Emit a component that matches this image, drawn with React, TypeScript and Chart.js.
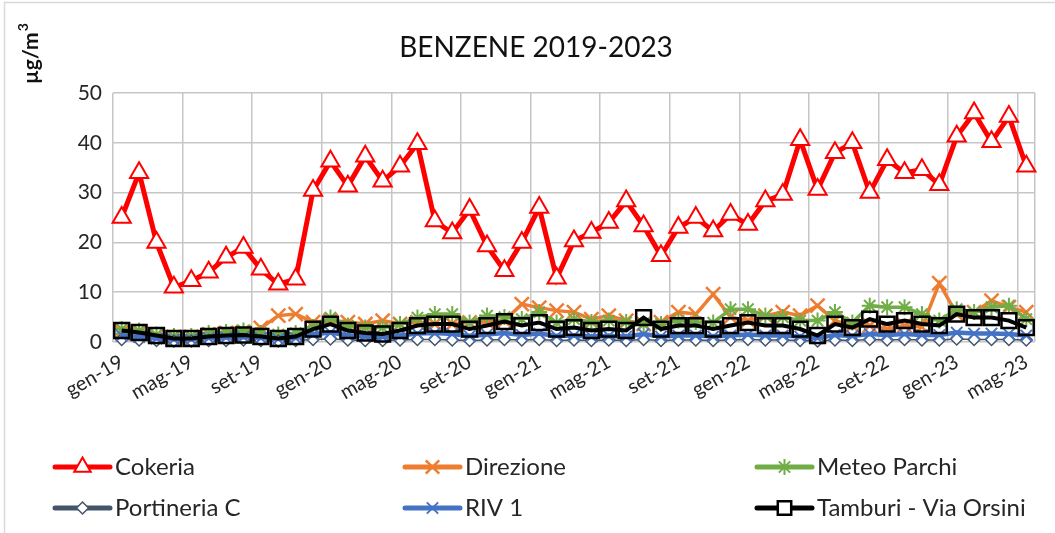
import React, { useEffect, useRef } from 'react';
import { Chart, registerables } from 'chart.js';
import { drawPoint } from 'chart.js/helpers';

Chart.register(...registerables);

const months = ['gen', 'feb', 'mar', 'apr', 'mag', 'giu', 'lug', 'ago', 'set', 'ott', 'nov', 'dic'];
const years = ['19', '20', '21', '22', '23'];
const categories = years.flatMap((y) => months.map((m) => `${m}-${y}`)).slice(0, 53);

const yTicks = [0, 10, 20, 30, 40, 50];

const cokeria = [25, 34, 20, 11, 12.3, 14, 17, 19, 14.6, 11.6, 12.6, 30.4, 36.3, 31.3, 37.3, 32.3, 35.3, 39.8, 24.3, 21.9, 26.6, 19.3, 14.3, 20, 27, 12.8, 20.3, 22, 24, 28.3, 23.3, 17.3, 23, 25, 22.3, 25.6, 23.6, 28.3, 29.6, 40.6, 30.6, 38, 40, 30, 36.6, 34, 34.6, 31.6, 41.3, 46, 40.2, 45.3, 35.3];
const direzione = [2.0, 1.8, 1.2, 1.0, 1.0, 1.5, 1.8, 2.0, 2.8, 5.3, 5.6, 4.0, 4.3, 4.0, 3.6, 4.3, 3.6, 4.0, 3.6, 3.6, 3.9, 4.0, 4.3, 7.6, 6.9, 6.3, 6.0, 4.6, 5.3, 4.3, 3.6, 4.0, 6.0, 5.6, 9.6, 5.0, 4.3, 5.3, 6.0, 5.3, 7.3, 4.3, 3.3, 3.3, 2.6, 3.3, 3.0, 11.8, 5.6, 6.0, 8.3, 7.0, 6.0];
const meteoParchi = [2.6, 2.3, 1.5, 1.2, 1.2, 1.8, 2.0, 2.3, 1.8, 1.5, 1.8, 3.0, 4.9, 3.3, 2.9, 2.9, 3.6, 4.9, 5.6, 5.6, 3.9, 5.3, 5.0, 4.6, 6.0, 3.9, 4.6, 4.0, 4.3, 4.0, 3.6, 3.6, 4.3, 4.0, 3.9, 6.6, 6.6, 5.3, 5.0, 4.3, 4.3, 6.0, 3.9, 7.3, 7.0, 7.0, 5.6, 4.3, 6.6, 6.0, 7.0, 7.3, 4.6];
const portineriaC = [0.5, 0.4, 0.3, 0.2, 0.2, 0.3, 0.3, 0.4, 0.3, 0.2, 0.3, 0.5, 0.6, 0.4, 0.3, 0.3, 0.4, 0.5, 0.5, 0.4, 0.3, 0.4, 0.5, 0.4, 0.5, 0.3, 0.4, 0.3, 0.4, 0.3, 0.5, 0.3, 0.4, 0.4, 0.3, 0.4, 0.5, 0.4, 0.4, 0.3, 0.2, 0.4, 0.3, 0.5, 0.4, 0.5, 0.4, 0.4, 0.6, 0.5, 0.5, 0.5, 0.4];
const riv1 = [1.3, 1.0, 0.7, 0.5, 0.5, 0.8, 0.9, 1.0, 0.8, 0.6, 0.8, 1.5, 1.9, 1.3, 1.1, 1.0, 1.3, 1.7, 1.8, 1.6, 1.2, 1.5, 1.8, 1.4, 1.7, 1.2, 1.3, 1.1, 1.2, 1.1, 1.6, 1.1, 1.3, 1.3, 1.1, 1.3, 1.5, 1.3, 1.3, 1.1, 0.8, 1.4, 1.2, 1.6, 1.4, 1.6, 1.4, 1.4, 1.9, 1.7, 1.7, 1.6, 1.3];
const tamburi = [2.3, 1.9, 1.3, 0.7, 0.7, 1.1, 1.3, 1.4, 1.1, 0.7, 1.1, 2.6, 3.6, 2.3, 1.8, 1.6, 2.3, 3.3, 3.6, 3.6, 2.6, 3.3, 4.1, 3.3, 3.9, 2.6, 2.9, 2.3, 2.6, 2.3, 4.9, 2.6, 3.3, 3.3, 2.6, 3.3, 3.9, 3.3, 3.3, 2.6, 1.3, 3.6, 2.9, 4.6, 3.6, 4.3, 3.6, 3.3, 5.6, 4.9, 4.9, 4.3, 2.9];

const seriesNames = ['Cokeria', 'Direzione', 'Meteo Parchi', 'Portineria C', 'RIV 1', 'Tamburi - Via Orsini'];
const seriesValues = [cokeria, direzione, meteoParchi, portineriaC, riv1, tamburi];

const styles = [
  { color: '#FF0000', lineWidth: 5, pointStyle: 'triangle', radius: 10.5, fill: '#FFFFFF', pointBorder: 2 },
  { color: '#ED7D31', lineWidth: 3.5, pointStyle: 'crossRot', radius: 10, fill: 'rgba(0,0,0,0)', pointBorder: 2.5 },
  { color: '#70AD47', lineWidth: 3.5, pointStyle: 'star', radius: 8, fill: 'rgba(0,0,0,0)', pointBorder: 2 },
  { color: '#44546A', lineWidth: 1.5, pointStyle: 'rectRot', radius: 6, fill: '#FFFFFF', pointBorder: 1.5 },
  { color: '#4472C4', lineWidth: 4.5, pointStyle: 'crossRot', radius: 8, fill: 'rgba(0,0,0,0)', pointBorder: 2 },
  { color: '#000000', lineWidth: 4, pointStyle: 'rect', radius: 10.5, fill: 'rgba(0,0,0,0)', pointBorder: 2.5 },
];

const FONT = 'Lato, "Open Sans", sans-serif';
const GRID = '#c6c6c6';

const decorPlugin = {
  id: 'decor',
  beforeDraw(chart: any) {
    const ctx = chart.ctx;
    ctx.save();
    ctx.fillStyle = '#ffffff';
    ctx.fillRect(0, 0, chart.width, chart.height);
    ctx.restore();
  },
  afterDraw(chart: any) {
    const ctx = chart.ctx;
    ctx.save();
    ctx.strokeStyle = '#d9d9d9';
    ctx.lineWidth = 1.5;
    ctx.strokeRect(4.5, 2.5, chart.width + 10, chart.height + 10);

    ctx.fillStyle = '#111111';
    ctx.font = `28px ${FONT}`;
    ctx.textAlign = 'center';
    ctx.textBaseline = 'middle';
    ctx.fillText('BENZENE 2019-2023', 536, 48);

    ctx.save();
    ctx.translate(31, 84);
    ctx.rotate(-Math.PI / 2);
    ctx.textAlign = 'left';
    ctx.textBaseline = 'middle';
    ctx.font = `bold 21px ${FONT}`;
    ctx.fillStyle = '#111111';
    const unit = 'µg/m';
    ctx.fillText(unit, 0, 0);
    const w = ctx.measureText(unit).width;
    ctx.font = `bold 14px ${FONT}`;
    ctx.fillText('3', w + 1, -8);
    ctx.restore();

    const cols = [55, 405, 757];
    const rows = [467, 508];
    seriesNames.forEach((name, i) => {
      const s = styles[i];
      const x = cols[i % 3];
      const y = rows[Math.floor(i / 3)];
      ctx.strokeStyle = s.color;
      ctx.lineWidth = 5;
      ctx.lineCap = 'round';
      ctx.beginPath();
      ctx.moveTo(x, y);
      ctx.lineTo(x + 55, y);
      ctx.stroke();
      ctx.lineCap = 'butt';
      ctx.fillStyle = s.fill === 'rgba(0,0,0,0)' ? '#ffffff' : s.fill;
      ctx.strokeStyle = s.color;
      ctx.lineWidth = s.pointBorder;
      drawPoint(ctx, { pointStyle: s.pointStyle, radius: Math.min(s.radius, 9.5), rotation: 0, borderWidth: s.pointBorder } as any, x + 27.5, y);
      ctx.fillStyle = '#262626';
      ctx.font = `24px ${FONT}`;
      ctx.textAlign = 'left';
      ctx.textBaseline = 'middle';
      ctx.fillText(name, x + 60, y);
    });
    ctx.restore();
  },
};

export default function App() {
  const ref = useRef<HTMLCanvasElement | null>(null);
  useEffect(() => {
    if (!ref.current) return;
    const datasets = seriesNames.map((name, i) => {
      const s = styles[i];
      return {
        label: name,
        data: seriesValues[i],
        borderColor: s.color,
        backgroundColor: s.color,
        borderWidth: s.lineWidth,
        pointStyle: s.pointStyle,
        pointRadius: s.radius,
        pointBorderWidth: s.pointBorder,
        pointBorderColor: s.color,
        pointBackgroundColor: s.fill,
        tension: 0,
        clip: false,
        order: seriesNames.length - i,
      };
    });
    const chart = new Chart(ref.current, {
      type: 'line',
      data: { labels: categories, datasets: datasets as any },
      options: {
        animation: false,
        responsive: false,
        maintainAspectRatio: false,
        layout: { padding: { top: 93, right: 20, left: 0, bottom: 0 } },
        plugins: {
          legend: { display: false },
          title: { display: false },
          tooltip: { enabled: false },
        },
        scales: {
          x: {
            type: 'category',
            offset: true,
            border: { display: false },
            grid: {
              offset: true,
              drawTicks: false,
              lineWidth: 1.5,
              color: (ctx: any) => (ctx.index === undefined || ctx.index % 4 === 0 ? GRID : 'rgba(0,0,0,0)'),
            },
            ticks: {
              autoSkip: false,
              maxRotation: 30,
              minRotation: 30,
              padding: 8,
              color: '#262626',
              font: { family: FONT, size: 20 },
              callback: (_v: any, i: number) => (i % 4 === 0 ? categories[i] : ''),
            },
            afterFit: (s: any) => {
              s.height = 191;
            },
          },
          y: {
            min: 0,
            max: 50,
            border: { display: false },
            grid: { drawTicks: false, color: GRID, lineWidth: 1.5 },
            afterBuildTicks: (s: any) => {
              s.ticks = yTicks.map((v) => ({ value: v }));
            },
            ticks: {
              padding: 11,
              color: '#262626',
              font: { family: FONT, size: 21 },
            },
            afterFit: (s: any) => {
              s.width = 113;
            },
          },
        },
      },
      plugins: [decorPlugin],
    });
    return () => chart.destroy();
  }, []);
  return (
    <div style={{ position: 'absolute', left: 0, top: 0, width: 1055, height: 533 }}>
      <canvas ref={ref} width={1055} height={533} style={{ display: 'block' }} />
    </div>
  );
}
